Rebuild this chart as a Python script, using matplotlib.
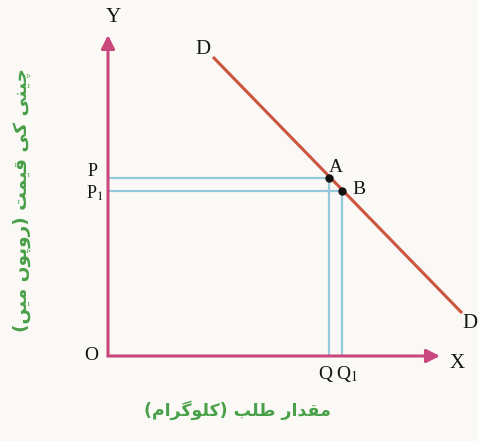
import matplotlib
matplotlib.use("Agg")
import matplotlib.pyplot as plt

# axis lengths (quantity, price units)
x_axis_end = 33.2
y_axis_end = 32.1

# demand curve D, two end points
demand_q = [10.5, 35.4]
demand_p = [29.9, 4.3]

# points A and B on the curve
point_names = ["A", "B"]
point_q = [22.1, 23.4]
point_p = [17.8, 16.5]

x_title = "مقدار طلب (کلوگرام)"
y_title = "چینی کی قیمت (روپوں میں)"

PINK = "#c8487e"
RED = "#cc5540"
BLUE = "#93c9d8"
GREEN = "#48a048"

# isolated, final, initial, medial
FORMS = {
    "ا": ("\uFE8D", "\uFE8E", None, None),
    "ب": ("\uFE8F", "\uFE90", "\uFE91", "\uFE92"),
    "پ": ("\uFB56", "\uFB57", "\uFB58", "\uFB59"),
    "ت": ("\uFE95", "\uFE96", "\uFE97", "\uFE98"),
    "چ": ("\uFB7A", "\uFB7B", "\uFB7C", "\uFB7D"),
    "د": ("\uFEA9", "\uFEAA", None, None),
    "ر": ("\uFEAD", "\uFEAE", None, None),
    "ط": ("\uFEC1", "\uFEC2", "\uFEC3", "\uFEC4"),
    "ق": ("\uFED5", "\uFED6", "\uFED7", "\uFED8"),
    "ک": ("\uFB8E", "\uFB8F", "\uFB90", "\uFB91"),
    "گ": ("\uFB92", "\uFB93", "\uFB94", "\uFB95"),
    "ل": ("\uFEDD", "\uFEDE", "\uFEDF", "\uFEE0"),
    "م": ("\uFEE1", "\uFEE2", "\uFEE3", "\uFEE4"),
    "ن": ("\uFEE5", "\uFEE6", "\uFEE7", "\uFEE8"),
    "ں": ("\uFB9E", "\uFB9F", "\uFEE7", "\uFEE8"),
    "و": ("\uFEED", "\uFEEE", None, None),
    "ی": ("\uFBFC", "\uFBFD", "\uFBFE", "\uFBFF"),
}


def shape_urdu(text):
    # matplotlib has no arabic shaping, so pick the joined forms by hand
    out = []
    for i, ch in enumerate(text):
        if ch not in FORMS:
            out.append(ch)
            continue
        prev = text[i - 1] if i > 0 else ""
        nxt = text[i + 1] if i + 1 < len(text) else ""
        joins_prev = prev in FORMS and FORMS[prev][2] is not None
        joins_next = FORMS[ch][2] is not None and nxt in FORMS
        iso, fin, ini, med = FORMS[ch]
        if joins_prev and joins_next:
            out.append(med)
        elif joins_prev:
            out.append(fin)
        elif joins_next:
            out.append(ini)
        else:
            out.append(iso)
    mirror = {"(": ")", ")": "("}
    return "".join(mirror.get(c, c) for c in reversed(out))


plt.rcParams["mathtext.fontset"] = "stix"
serif = dict(family="Liberation Serif", color="#151515")

fig = plt.figure(figsize=(4.78, 4.41), dpi=100)
fig.patch.set_facecolor("#fbf9f6")
ax = fig.add_axes([0, 0, 1, 1])
ax.set_xlim(-10.8, 37.0)
ax.set_ylim(-8.5, 35.6)
ax.axis("off")

# guide lines from the axes to A and B
for q, p in zip(point_q, point_p):
    ax.plot([0, q], [p, p], color=BLUE, lw=1.6, zorder=1)
    ax.plot([q, q], [0, p], color=BLUE, lw=1.6, zorder=1)

# axes with arrow heads
arrow = dict(arrowstyle="-|>", color=PINK, lw=2.2, mutation_scale=20,
             shrinkA=0, shrinkB=0)
ax.annotate("", xy=(0, y_axis_end), xytext=(0, 0), arrowprops=arrow, zorder=3)
ax.annotate("", xy=(x_axis_end, 0), xytext=(0, 0), arrowprops=arrow, zorder=3)

# demand curve
ax.plot(demand_q, demand_p, color=RED, lw=2.2, solid_capstyle="butt", zorder=2)
ax.plot(point_q, point_p, "o", color="#111111", ms=5, zorder=4)

ax.text(0.5, y_axis_end + 1.8, "Y", fontsize=15, ha="center", va="center", **serif)
ax.text(x_axis_end + 1.7, -0.7, "X", fontsize=15, ha="center", va="center", **serif)
ax.text(-1.0, 0, "O", fontsize=14, ha="right", va="center", **serif)
ax.text(demand_q[0] - 1.0, demand_p[0] + 0.7, "D", fontsize=15, ha="center", va="center", **serif)
ax.text(demand_q[1] + 0.8, demand_p[1] - 1.0, "D", fontsize=15, ha="center", va="center", **serif)

ax.annotate(point_names[0], (point_q[0], point_p[0]), xytext=(7, 11),
            textcoords="offset pixels", fontsize=14, ha="center", va="center", **serif)
ax.annotate(point_names[1], (point_q[1], point_p[1]), xytext=(17, 1),
            textcoords="offset pixels", fontsize=14, ha="center", va="center", **serif)

ax.text(-1.0, point_p[0] + 0.6, "P", fontsize=13, ha="right", va="center", **serif)
ax.text(-0.5, point_p[1] - 0.2, r"P$_{\mathrm{1}}$", fontsize=13, ha="right", va="center", **serif)
ax.text(point_q[0] + 0.3, -1.8, "Q", fontsize=14, ha="right", va="center", **serif)
ax.text(point_q[1] - 0.6, -1.8, r"Q$_{\mathrm{1}}$", fontsize=14, ha="left", va="center", **serif)

ax.text(12.9, -5.4, shape_urdu(x_title), fontsize=12.5, color=GREEN, fontweight="bold",
        family="DejaVu Sans", ha="center", va="center")
ax.text(-8.6, 15.6, shape_urdu(y_title), fontsize=13.3, color=GREEN, fontweight="bold",
        family="DejaVu Sans", ha="center", va="center", rotation=90)

fig.savefig("out.png", dpi=100, facecolor=fig.get_facecolor())
print("saved out.png")
